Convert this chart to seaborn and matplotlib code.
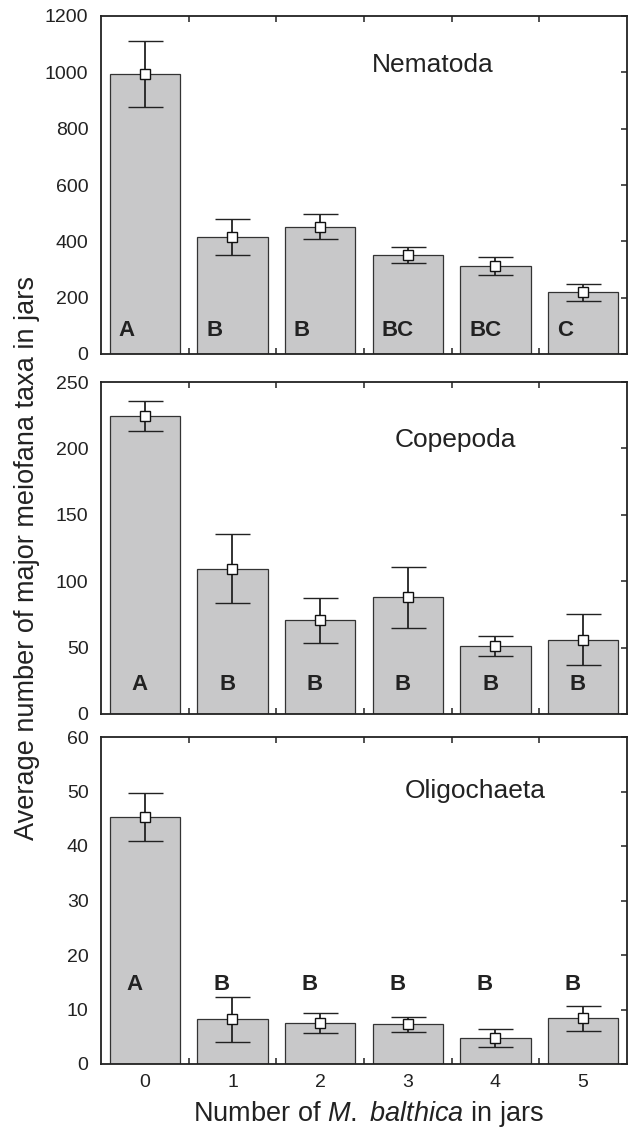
import numpy as np
import matplotlib
matplotlib.use("Agg")
import matplotlib.pyplot as plt
import seaborn as sns

# data
jars = ["0", "1", "2", "3", "4", "5"]

nema_mean = [995, 417, 452, 352, 311, 219]
nema_err = [117, 64, 44, 28, 32, 30]
nema_grp = ["A", "B", "B", "BC", "BC", "C"]

cope_mean = [224.5, 109.5, 70.5, 88, 51, 56]
cope_err = [11.5, 26, 17, 23, 7.5, 19]
cope_grp = ["A", "B", "B", "B", "B", "B"]

olig_mean = [45.4, 8.2, 7.5, 7.3, 4.8, 8.4]
olig_err = [4.4, 4.1, 1.9, 1.4, 1.6, 2.3]
olig_grp = ["A", "B", "B", "B", "B", "B"]

sns.set_style("ticks")
plt.rcParams['font.family'] = ['Liberation Sans', 'DejaVu Sans']
plt.rcParams['mathtext.fontset'] = 'custom'
plt.rcParams['mathtext.rm'] = 'Liberation Sans'
plt.rcParams['mathtext.it'] = 'Liberation Sans:italic'

fig = plt.figure(figsize=(6.28, 11.28), dpi=100)
W, H = 628, 1128

# panel boxes in pixels: (top, bottom)
boxes = [(16, 354), (382, 714), (737, 1064)]
left_px, right_px = 101, 627

panels = [
    (nema_mean, nema_err, nema_grp, "Nematoda", 1200, 200, (0.63, 0.855), "left", -0.3, 85),
    (cope_mean, cope_err, cope_grp, "Copepoda", 250, 50, (0.673, 0.826), "center", -0.06, 22),
    (olig_mean, olig_err, olig_grp, "Oligochaeta", 60, 10, (0.711, 0.835), "center", -0.12, 14.5),
]

for k, (mean, err, grp, name, ymax, ystep, tpos, ha, dx, ly) in enumerate(panels):
    top, bot = boxes[k]
    ax = fig.add_axes([left_px / W, 1 - bot / H, (right_px - left_px) / W, (bot - top) / H])
    sns.barplot(x=jars, y=mean, color="#c8c8c9", edgecolor="#333333",
                linewidth=0.9, width=0.8, errorbar=None, ax=ax, saturation=1)
    ax.errorbar(np.arange(len(jars)), mean, yerr=err, fmt="s", mfc="white",
                mec="#111111", mew=1.0, ms=6.5, ecolor="#222222",
                elinewidth=1.3, capsize=12.6, capthick=1.3, zorder=5)
    for i, g in enumerate(grp):
        ax.text(i + dx, ly, g, ha=ha, va="center", fontsize=16,
                fontweight="bold", color="#222222")
    ax.text(tpos[0], tpos[1], name, transform=ax.transAxes, ha="center",
            va="center", fontsize=19, color="#222222")

    ax.set_xlim(-0.5, 5.5)
    ax.set_ylim(0, ymax)
    ax.set_yticks(np.arange(0, ymax + 1, ystep))
    ax.set_xticks(np.arange(0.5, 5.5, 1), minor=True)
    ax.tick_params(axis="y", which="major", left=False, right=True,
                   direction="in", length=4, width=1.1, labelsize=14,
                   pad=9, colors="#222222")
    ax.tick_params(axis="x", which="major", length=0, labelsize=14,
                   pad=7, colors="#222222")
    ax.tick_params(axis="x", which="minor", top=True, bottom=True,
                   direction="in", length=4, width=1.1, colors="#222222")
    ax.set_xlabel("")
    ax.set_ylabel("")
    for s in ax.spines.values():
        s.set_visible(True)
        s.set_linewidth(1.3)
        s.set_color("#222222")
    if k < 2:
        ax.set_xticklabels([])

fig.text(27 / W, 1 - 558 / H, "Average number of major meiofana taxa in jars",
         rotation=90, ha="center", va="center", fontsize=19.5, color="#222222")
fig.text(368 / W, 1 - 1114 / H, r"Number of $\it{M.}$ $\it{balthica}$ in jars",
         ha="center", va="center", fontsize=19.5, color="#222222")

fig.savefig("out.png", dpi=100)
